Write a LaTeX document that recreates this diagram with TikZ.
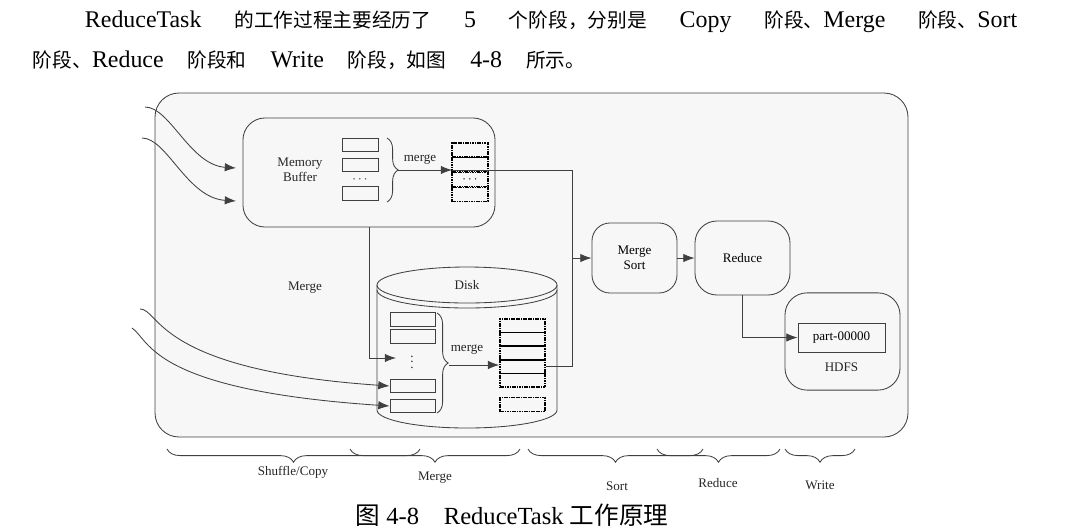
\documentclass[tikz,border=0pt]{standalone}
\usepackage{fontspec}
\setmainfont{Liberation Serif}
\newfontfamily\cjk{Noto Sans CJK SC}
\newcommand{\zh}[1]{{\cjk #1}}
\newcommand{\zp}[1]{{\cjk\fontsize{14}{18}\selectfont #1}}
\usetikzlibrary{positioning,arrows.meta,calc,decorations.pathreplacing}

\begin{document}
\begin{tikzpicture}[
  x=0.025cm, y=-0.025cm,
  font=\fontsize{9.3}{10.5}\selectfont,
  line/.style={draw=black!75, semithick},
  arr/.style={line, -{Latex[length=8pt,width=6pt]}},
  box/.style={draw=black!75, semithick, rounded corners=0.55cm},
  cell/.style={draw=black!75, semithick, minimum width=0.9cm, minimum height=0.33cm, inner sep=0pt},
  dcell/.style={draw=black, line width=1.1pt, dash pattern=on 1.2pt off 0.5pt, minimum width=0.9cm, minimum height=0.36cm, inner sep=0pt},
  brc/.style={line, decorate, decoration={brace, amplitude=0.28cm}},
  phase/.style={line, decorate, decoration={brace, mirror, amplitude=0.33cm}},
  lbl/.style={text=black!85, align=center, inner sep=1pt}
]
\useasboundingbox (0,0) rectangle (1068,529);

% text above and caption
\node[anchor=west, font=\fontsize{17}{20}\selectfont] (para1) at (80,22)
  {\makebox[23.3cm][s]{ReduceTask \zp{的工作过程主要经历了} 5 \zp{个阶段，分别是} Copy \zp{阶段、}Merge \zp{阶段、}Sort}};
\node[anchor=west, font=\fontsize{17}{20}\selectfont] (para2) at (28,60)
  {\makebox[13.8cm][s]{\zp{阶段、}Reduce \zp{阶段和} Write \zp{阶段，如图} 4-8 \zp{所示。}}};
\node[font=\fontsize{17.5}{20}\selectfont] (cap) at (512,515) {\zh{图} 4-8\quad ReduceTask \zh{工作原理}};

% frame
\draw[line, fill=black!3, rounded corners=0.6cm] (155,93) rectangle (908,437);

% memory buffer
\node[box, minimum width=6.3cm, minimum height=2.725cm] (membuf) at (369,172.5) {};
\node[lbl] (memlbl) at (300,170) {Memory\\Buffer};
\node[cell] (m1) at (360,145) {};
\node[cell] (m2) at (360,165) {};
\node[lbl] (mdots) at (360,180) {$\cdots$};
\node[cell] (m3) at (360,193.5) {};
\draw[brc] (387,138) -- (387,202);
\coordinate (mtip) at (397,170);
\node[lbl] (mmerge) at (420,160) {merge};
\node[dcell] (r1) at (470,150) {};
\node[dcell] (r2) at (470,164.5) {};
\node[dcell] (r3) at (470,179.5) {$\cdots$};
\node[dcell] (r4) at (470,194.5) {};
\coordinate (mout) at (452,170);

% disk
\draw[line] (377,285) -- (377,410) arc (180:0:90 and 18) -- (557,285);
\draw[line] (467,285) ellipse (90 and 18);
\draw[line] (377,290) arc (180:0:90 and 18);
\node[lbl] (disk) at (467,285) {Disk};
\node[cell, minimum width=1.125cm] (d1) at (412.5,319.5) {};
\node[cell, minimum width=1.125cm] (d2) at (412.5,336.5) {};
\node[lbl, inner sep=0pt] (ddots) at (412,358) {$\vdots$};
\node[cell, minimum width=1.125cm] (d3) at (412.5,386) {};
\node[cell, minimum width=1.125cm] (d4) at (412.5,406) {};
\draw[brc] (437,313) -- (437,413);
\coordinate (dtip) at (449,365);
\coordinate (dvin) at (396,358);
\node[lbl] (dmerge) at (467,350) {merge};
\node[dcell, minimum width=1.125cm, minimum height=0.34cm] (s1) at (522.5,325.8) {};
\node[dcell, minimum width=1.125cm, minimum height=0.34cm] (s2) at (522.5,339.4) {};
\node[dcell, minimum width=1.125cm, minimum height=0.34cm] (s3) at (522.5,353) {};
\node[dcell, minimum width=1.125cm, minimum height=0.34cm] (s4) at (522.5,366.6) {};
\node[dcell, minimum width=1.125cm, minimum height=0.34cm] (s5) at (522.5,380.2) {};
\node[dcell, minimum width=1.125cm, minimum height=0.34cm] (s6) at (522.5,404.5) {};
\node[lbl] (mergelbl) at (305,288) {Merge};

% sort, reduce, write
\coordinate (jn) at (572,258);
\node[box, rounded corners=0.45cm, minimum width=2.125cm, minimum height=1.75cm, align=center] (msort) at (634.5,258) {Merge\\Sort};
\node[box, minimum width=2.375cm, minimum height=1.85cm] (reduce) at (742.5,258) {Reduce};
\node[box, minimum width=2.875cm, minimum height=2.43cm] (hdfs) at (842.5,341.5) {};
\node[cell, minimum width=2.175cm, minimum height=0.725cm] (part) at (841.5,337.5) {part-00000};
\node[lbl, below=6pt of part] (hdfslbl) {HDFS};

% arrows
\coordinate (in1) at (145,107);
\coordinate (in2) at (142,138);
\coordinate (in3) at (140,309);
\coordinate (in4) at (132,328);
\coordinate (t1) at (236,168);
\coordinate (t2) at (236,201);
\draw[arr] (in1) .. controls (170,107) and (190,165) .. (t1);
\draw[arr] (in2) .. controls (167,138) and (187,198) .. (t2);
\draw[arr] (in3) .. controls (160,309) and (155,370) .. (d3.west);
\draw[arr] (in4) .. controls (150,340) and (150,390) .. (d4.west);
\draw[arr] (mtip) -- (mout);
\draw[line] (mout) -| (jn);
\draw[line] (s4.east) -| (jn);
\draw[arr] (membuf.south) |- (dvin);
\draw[arr] (dtip) -- (dtip -| s4.west);
\draw[arr] (jn) -- (msort);
\draw[arr] (msort) -- (reduce);
\draw[arr] (reduce.south) |- (part.west);

% phases
\draw[phase] (167,449) -- (420,449);
\draw[phase] (350,449) -- (520,449);
\draw[phase] (528,449) -- (703,449);
\draw[phase] (657,449) -- (780,449);
\draw[phase] (785,449) -- (855,449);
\node[lbl] (pcopy) at (293,472) {Shuffle/Copy};
\node[lbl] (pmerge) at (435,478) {Merge};
\node[lbl] (psort) at (617,486) {Sort};
\node[lbl] (preduce) at (718,483) {Reduce};
\node[lbl] (pwrite) at (820,485) {Write};

\end{tikzpicture}
\end{document}
